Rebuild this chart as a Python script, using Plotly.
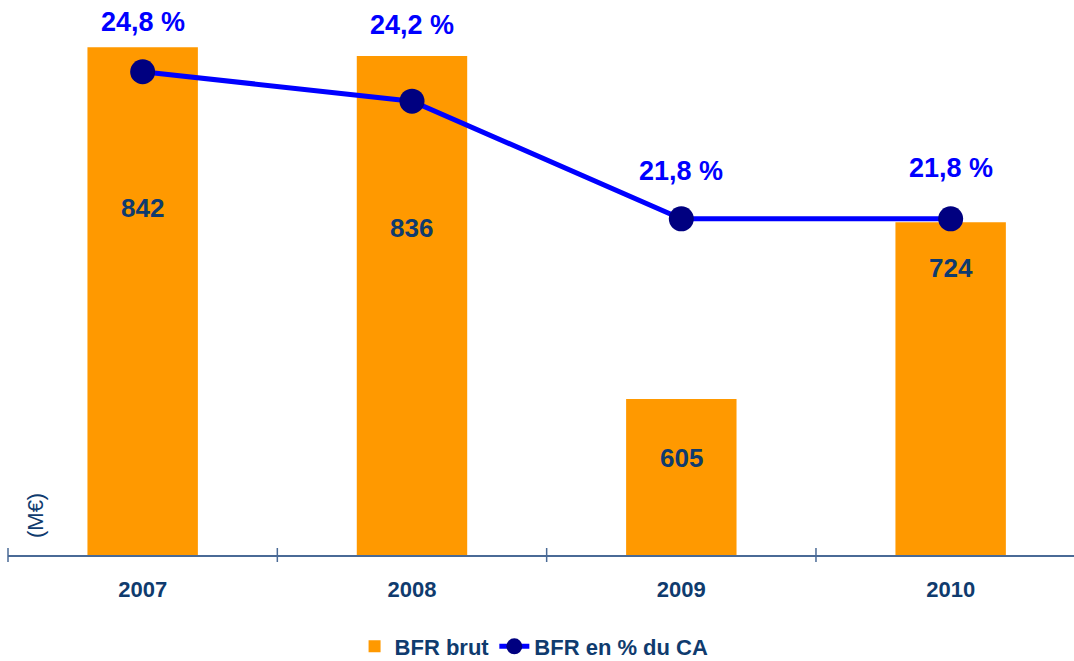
import plotly.graph_objects as go

years = ["2007", "2008", "2009", "2010"]
bfr_brut = [842, 836, 605, 724]
bfr_pct = [24.8, 24.2, 21.8, 21.8]
pct_labels = ["24,8 %", "24,2 %", "21,8 %", "21,8 %"]
bar_labels = ["842", "836", "605", "724"]
unit_label = "(M€)"

# label placement (pixels relative to the data point)
bar_label_drop = [161, 172, 59, 46]
pct_label_rise = [50, 76, 48, 51]

NAVY = "#0F3B6E"
ORANGE = "#FF9900"
BLUE = "#0000FF"
MARK = "#000080"
AXIS = "#4A6A96"
FONT = "Liberation Sans, Arial, sans-serif"

x_range = [-0.5, 3.458]
y_range = [500, 867]
y2_range = [14.94, 26.06]

fig = go.Figure()
fig.add_trace(go.Bar(
    x=years, y=bfr_brut, name="BFR brut", marker=dict(color=ORANGE, line=dict(width=0)),
    width=0.41, hoverinfo="skip",
))
fig.add_trace(go.Scatter(
    x=years, y=bfr_pct, name="BFR en % du CA", yaxis="y2", mode="lines+markers",
    line=dict(color=BLUE, width=5), marker=dict(color=MARK, size=25),
    hoverinfo="skip",
))

annotations = []
for i, (v, t, d) in enumerate(zip(bfr_brut, bar_labels, bar_label_drop)):
    annotations.append(dict(
        x=i, y=v, xref="x", yref="y", text=t, showarrow=False, yshift=-d,
        xanchor="center", yanchor="middle",
        font=dict(family=FONT, size=26, color=NAVY, weight="bold"),
    ))
for i, (v, t, d) in enumerate(zip(bfr_pct, pct_labels, pct_label_rise)):
    annotations.append(dict(
        x=i, y=v, xref="x", yref="y2", text=t, showarrow=False, yshift=d,
        xanchor="center", yanchor="middle",
        font=dict(family=FONT, size=27, color=BLUE, weight="bold"),
    ))
annotations.append(dict(
    x=0.0263, y=0.0716, xref="paper", yref="paper", text=unit_label, showarrow=False,
    xanchor="center", yanchor="middle",
    textangle=-90, font=dict(family=FONT, size=22, color=NAVY),
))

shapes = []
span = x_range[1] - x_range[0]
for i in range(len(years) + 1):
    xp = (i - 0.5 - x_range[0]) / span
    shapes.append(dict(
        type="line", xref="paper", yref="paper", x0=xp, x1=xp,
        ysizemode="pixel", yanchor=0, y0=-7, y1=7,
        line=dict(color=AXIS, width=1.5),
    ))

fig.update_layout(
    width=1074, height=661,
    margin=dict(l=8, r=0, t=10, b=106, autoexpand=False),
    paper_bgcolor="white", plot_bgcolor="white",
    showlegend=True,
    legend=dict(
        orientation="h", x=0.4935, xanchor="center", y=-0.168, yanchor="middle",
        font=dict(family=FONT, size=22, color=NAVY, weight="bold"),
        traceorder="normal",
    ),
    xaxis=dict(
        type="category", range=x_range, showgrid=False, zeroline=False,
        showline=True, linecolor=AXIS, linewidth=1.5, ticks="",
        tickfont=dict(family=FONT, size=22, color=NAVY, weight="bold"),
        ticklabelstandoff=14,
    ),
    yaxis=dict(range=y_range, visible=False, showgrid=False),
    yaxis2=dict(range=y2_range, visible=False, overlaying="y", side="right", showgrid=False),
    annotations=annotations,
    shapes=shapes,
)

fig.write_html(
    "out.html",
    config={"displayModeBar": False},
    post_script="document.body.style.margin='0';document.body.style.padding='0';",
)
